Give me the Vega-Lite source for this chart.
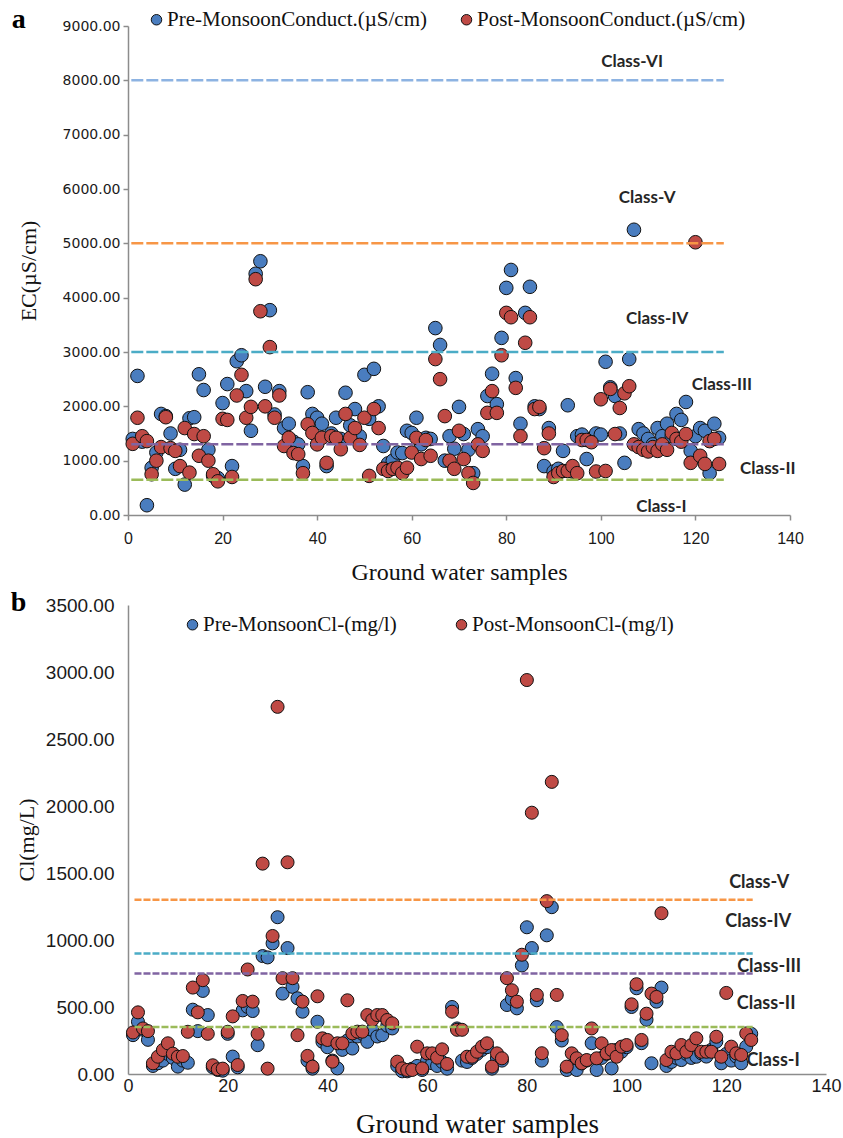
{
  "$schema": "https://vega.github.io/schema/vega-lite/v6.json",
  "padding": {"left": 10, "top": 6, "right": 0, "bottom": 2},
  "background": "white",
  "spacing": 5,
  "datasets": {
    "ec": [
{"s":"Pre","n":1,"v":1400},{"s":"Pre","n":2,"v":2560},{"s":"Pre","n":3,"v":1350},{"s":"Pre","n":4,"v":180},{"s":"Pre","n":5,"v":870},{"s":"Pre","n":6,"v":1150},{"s":"Pre","n":7,"v":1860},{"s":"Pre","n":8,"v":1820},{"s":"Pre","n":9,"v":1500},{"s":"Pre","n":10,"v":850},
{"s":"Pre","n":11,"v":1200},{"s":"Pre","n":12,"v":560},{"s":"Pre","n":13,"v":1780},{"s":"Pre","n":14,"v":1800},{"s":"Pre","n":15,"v":2590},{"s":"Pre","n":16,"v":2300},{"s":"Pre","n":17,"v":1200},{"s":"Pre","n":18,"v":720},{"s":"Pre","n":19,"v":680},{"s":"Pre","n":20,"v":2060},
{"s":"Pre","n":21,"v":2410},{"s":"Pre","n":22,"v":900},{"s":"Pre","n":23,"v":2830},{"s":"Pre","n":24,"v":2940},{"s":"Pre","n":25,"v":2280},{"s":"Pre","n":26,"v":1550},{"s":"Pre","n":27,"v":4440},{"s":"Pre","n":28,"v":4670},{"s":"Pre","n":29,"v":2360},{"s":"Pre","n":30,"v":3770},
{"s":"Pre","n":31,"v":1850},{"s":"Pre","n":32,"v":2280},{"s":"Pre","n":33,"v":1600},{"s":"Pre","n":34,"v":1680},{"s":"Pre","n":35,"v":1350},{"s":"Pre","n":36,"v":1300},{"s":"Pre","n":37,"v":900},{"s":"Pre","n":38,"v":2260},{"s":"Pre","n":39,"v":1860},{"s":"Pre","n":40,"v":1790},
{"s":"Pre","n":41,"v":1680},{"s":"Pre","n":42,"v":900},{"s":"Pre","n":43,"v":1500},{"s":"Pre","n":44,"v":1790},{"s":"Pre","n":45,"v":1400},{"s":"Pre","n":46,"v":2250},{"s":"Pre","n":47,"v":1650},{"s":"Pre","n":48,"v":1950},{"s":"Pre","n":49,"v":1450},{"s":"Pre","n":50,"v":2580},
{"s":"Pre","n":51,"v":1770},{"s":"Pre","n":52,"v":2690},{"s":"Pre","n":53,"v":2000},{"s":"Pre","n":54,"v":1270},{"s":"Pre","n":55,"v":950},{"s":"Pre","n":56,"v":1000},{"s":"Pre","n":57,"v":1150},{"s":"Pre","n":58,"v":1140},{"s":"Pre","n":59,"v":1550},{"s":"Pre","n":60,"v":1510},
{"s":"Pre","n":61,"v":1790},{"s":"Pre","n":62,"v":1300},{"s":"Pre","n":63,"v":1420},{"s":"Pre","n":64,"v":1400},{"s":"Pre","n":65,"v":3440},{"s":"Pre","n":66,"v":3130},{"s":"Pre","n":67,"v":1000},{"s":"Pre","n":68,"v":1450},{"s":"Pre","n":69,"v":1220},{"s":"Pre","n":70,"v":1990},
{"s":"Pre","n":71,"v":1490},{"s":"Pre","n":72,"v":1200},{"s":"Pre","n":73,"v":770},{"s":"Pre","n":74,"v":1580},{"s":"Pre","n":75,"v":1450},{"s":"Pre","n":76,"v":2190},{"s":"Pre","n":77,"v":2600},{"s":"Pre","n":78,"v":2040},{"s":"Pre","n":79,"v":3260},{"s":"Pre","n":80,"v":4180},
{"s":"Pre","n":81,"v":4510},{"s":"Pre","n":82,"v":2520},{"s":"Pre","n":83,"v":1680},{"s":"Pre","n":84,"v":3720},{"s":"Pre","n":85,"v":4200},{"s":"Pre","n":86,"v":2000},{"s":"Pre","n":87,"v":1950},{"s":"Pre","n":88,"v":900},{"s":"Pre","n":89,"v":1600},{"s":"Pre","n":90,"v":800},
{"s":"Pre","n":91,"v":850},{"s":"Pre","n":92,"v":1180},{"s":"Pre","n":93,"v":2020},{"s":"Pre","n":94,"v":800},{"s":"Pre","n":95,"v":1450},{"s":"Pre","n":96,"v":1480},{"s":"Pre","n":97,"v":1030},{"s":"Pre","n":98,"v":1400},{"s":"Pre","n":99,"v":1500},{"s":"Pre","n":100,"v":1480},
{"s":"Pre","n":101,"v":2820},{"s":"Pre","n":102,"v":2350},{"s":"Pre","n":103,"v":2190},{"s":"Pre","n":104,"v":1500},{"s":"Pre","n":105,"v":960},{"s":"Pre","n":106,"v":2870},{"s":"Pre","n":107,"v":5250},{"s":"Pre","n":108,"v":1580},{"s":"Pre","n":109,"v":1500},{"s":"Pre","n":110,"v":1400},
{"s":"Pre","n":111,"v":1300},{"s":"Pre","n":112,"v":1600},{"s":"Pre","n":113,"v":1450},{"s":"Pre","n":114,"v":1680},{"s":"Pre","n":115,"v":1450},{"s":"Pre","n":116,"v":1860},{"s":"Pre","n":117,"v":1750},{"s":"Pre","n":118,"v":2080},{"s":"Pre","n":119,"v":1180},{"s":"Pre","n":120,"v":1450},
{"s":"Pre","n":121,"v":1600},{"s":"Pre","n":122,"v":1550},{"s":"Pre","n":123,"v":770},{"s":"Pre","n":124,"v":1680},{"s":"Pre","n":125,"v":1420},
{"s":"Post","n":1,"v":1310},{"s":"Post","n":2,"v":1790},{"s":"Post","n":3,"v":1450},{"s":"Post","n":4,"v":1360},{"s":"Post","n":5,"v":750},{"s":"Post","n":6,"v":1000},{"s":"Post","n":7,"v":1250},{"s":"Post","n":8,"v":1800},{"s":"Post","n":9,"v":1230},{"s":"Post","n":10,"v":1180},
{"s":"Post","n":11,"v":900},{"s":"Post","n":12,"v":1600},{"s":"Post","n":13,"v":780},{"s":"Post","n":14,"v":1490},{"s":"Post","n":15,"v":1090},{"s":"Post","n":16,"v":1450},{"s":"Post","n":17,"v":1000},{"s":"Post","n":18,"v":750},{"s":"Post","n":19,"v":620},{"s":"Post","n":20,"v":1770},
{"s":"Post","n":21,"v":1750},{"s":"Post","n":22,"v":700},{"s":"Post","n":23,"v":2200},{"s":"Post","n":24,"v":2580},{"s":"Post","n":25,"v":1790},{"s":"Post","n":26,"v":1990},{"s":"Post","n":27,"v":4340},{"s":"Post","n":28,"v":3750},{"s":"Post","n":29,"v":2000},{"s":"Post","n":30,"v":3090},
{"s":"Post","n":31,"v":1790},{"s":"Post","n":32,"v":2200},{"s":"Post","n":33,"v":1270},{"s":"Post","n":34,"v":1420},{"s":"Post","n":35,"v":1140},{"s":"Post","n":36,"v":1120},{"s":"Post","n":37,"v":770},{"s":"Post","n":38,"v":1670},{"s":"Post","n":39,"v":1510},{"s":"Post","n":40,"v":1300},
{"s":"Post","n":41,"v":1420},{"s":"Post","n":42,"v":960},{"s":"Post","n":43,"v":1450},{"s":"Post","n":44,"v":1420},{"s":"Post","n":45,"v":1210},{"s":"Post","n":46,"v":1860},{"s":"Post","n":47,"v":1420},{"s":"Post","n":48,"v":1600},{"s":"Post","n":49,"v":1290},{"s":"Post","n":50,"v":1790},
{"s":"Post","n":51,"v":720},{"s":"Post","n":52,"v":1950},{"s":"Post","n":53,"v":1600},{"s":"Post","n":54,"v":850},{"s":"Post","n":55,"v":810},{"s":"Post","n":56,"v":850},{"s":"Post","n":57,"v":870},{"s":"Post","n":58,"v":770},{"s":"Post","n":59,"v":870},{"s":"Post","n":60,"v":1150},
{"s":"Post","n":61,"v":1420},{"s":"Post","n":62,"v":1030},{"s":"Post","n":63,"v":1380},{"s":"Post","n":64,"v":1090},{"s":"Post","n":65,"v":2870},{"s":"Post","n":66,"v":2500},{"s":"Post","n":67,"v":1820},{"s":"Post","n":68,"v":1000},{"s":"Post","n":69,"v":850},{"s":"Post","n":70,"v":1550},
{"s":"Post","n":71,"v":1030},{"s":"Post","n":72,"v":770},{"s":"Post","n":73,"v":590},{"s":"Post","n":74,"v":1300},{"s":"Post","n":75,"v":1180},{"s":"Post","n":76,"v":1880},{"s":"Post","n":77,"v":2280},{"s":"Post","n":78,"v":1880},{"s":"Post","n":79,"v":2940},{"s":"Post","n":80,"v":3720},
{"s":"Post","n":81,"v":3640},{"s":"Post","n":82,"v":2340},{"s":"Post","n":83,"v":1450},{"s":"Post","n":84,"v":3170},{"s":"Post","n":85,"v":3640},{"s":"Post","n":86,"v":1950},{"s":"Post","n":87,"v":1990},{"s":"Post","n":88,"v":1230},{"s":"Post","n":89,"v":1500},{"s":"Post","n":90,"v":700},
{"s":"Post","n":91,"v":770},{"s":"Post","n":92,"v":810},{"s":"Post","n":93,"v":810},{"s":"Post","n":94,"v":900},{"s":"Post","n":95,"v":770},{"s":"Post","n":96,"v":1380},{"s":"Post","n":97,"v":1380},{"s":"Post","n":98,"v":1340},{"s":"Post","n":99,"v":800},{"s":"Post","n":100,"v":2130},
{"s":"Post","n":101,"v":810},{"s":"Post","n":102,"v":2320},{"s":"Post","n":103,"v":1490},{"s":"Post","n":104,"v":1970},{"s":"Post","n":105,"v":2240},{"s":"Post","n":106,"v":2370},{"s":"Post","n":107,"v":1300},{"s":"Post","n":108,"v":1250},{"s":"Post","n":109,"v":1200},{"s":"Post","n":110,"v":1170},
{"s":"Post","n":111,"v":1250},{"s":"Post","n":112,"v":1180},{"s":"Post","n":113,"v":1300},{"s":"Post","n":114,"v":1200},{"s":"Post","n":115,"v":1510},{"s":"Post","n":116,"v":1400},{"s":"Post","n":117,"v":1350},{"s":"Post","n":118,"v":1490},{"s":"Post","n":119,"v":960},{"s":"Post","n":120,"v":5020},
{"s":"Post","n":121,"v":1090},{"s":"Post","n":122,"v":940},{"s":"Post","n":123,"v":1360},{"s":"Post","n":124,"v":1400},{"s":"Post","n":125,"v":940}
    ],
    "cl": [
{"s":"Pre","n":1,"v":290},{"s":"Pre","n":2,"v":390},{"s":"Pre","n":3,"v":330},{"s":"Pre","n":4,"v":255},{"s":"Pre","n":5,"v":60},{"s":"Pre","n":6,"v":80},{"s":"Pre","n":7,"v":100},{"s":"Pre","n":8,"v":150},{"s":"Pre","n":9,"v":120},{"s":"Pre","n":10,"v":55},
{"s":"Pre","n":11,"v":100},{"s":"Pre","n":12,"v":84},{"s":"Pre","n":13,"v":480},{"s":"Pre","n":14,"v":320},{"s":"Pre","n":15,"v":620},{"s":"Pre","n":16,"v":440},{"s":"Pre","n":17,"v":50},{"s":"Pre","n":18,"v":30},{"s":"Pre","n":19,"v":25},{"s":"Pre","n":20,"v":300},
{"s":"Pre","n":21,"v":130},{"s":"Pre","n":22,"v":50},{"s":"Pre","n":23,"v":475},{"s":"Pre","n":24,"v":500},{"s":"Pre","n":25,"v":470},{"s":"Pre","n":26,"v":215},{"s":"Pre","n":27,"v":880},{"s":"Pre","n":28,"v":870},{"s":"Pre","n":29,"v":975},{"s":"Pre","n":30,"v":1170},
{"s":"Pre","n":31,"v":600},{"s":"Pre","n":32,"v":940},{"s":"Pre","n":33,"v":650},{"s":"Pre","n":34,"v":565},{"s":"Pre","n":35,"v":465},{"s":"Pre","n":36,"v":100},{"s":"Pre","n":37,"v":40},{"s":"Pre","n":38,"v":390},{"s":"Pre","n":39,"v":240},{"s":"Pre","n":40,"v":200},
{"s":"Pre","n":41,"v":100},{"s":"Pre","n":42,"v":42},{"s":"Pre","n":43,"v":180},{"s":"Pre","n":44,"v":250},{"s":"Pre","n":45,"v":190},{"s":"Pre","n":46,"v":280},{"s":"Pre","n":47,"v":300},{"s":"Pre","n":48,"v":240},{"s":"Pre","n":49,"v":330},{"s":"Pre","n":50,"v":280},
{"s":"Pre","n":51,"v":290},{"s":"Pre","n":52,"v":360},{"s":"Pre","n":53,"v":340},{"s":"Pre","n":54,"v":60},{"s":"Pre","n":55,"v":20},{"s":"Pre","n":56,"v":20},{"s":"Pre","n":57,"v":40},{"s":"Pre","n":58,"v":60},{"s":"Pre","n":59,"v":30},{"s":"Pre","n":60,"v":100},
{"s":"Pre","n":61,"v":80},{"s":"Pre","n":62,"v":60},{"s":"Pre","n":63,"v":90},{"s":"Pre","n":64,"v":40},{"s":"Pre","n":65,"v":500},{"s":"Pre","n":66,"v":340},{"s":"Pre","n":67,"v":100},{"s":"Pre","n":68,"v":90},{"s":"Pre","n":69,"v":120},{"s":"Pre","n":70,"v":150},
{"s":"Pre","n":71,"v":180},{"s":"Pre","n":72,"v":200},{"s":"Pre","n":73,"v":40},{"s":"Pre","n":74,"v":120},{"s":"Pre","n":75,"v":100},{"s":"Pre","n":76,"v":515},{"s":"Pre","n":77,"v":560},{"s":"Pre","n":78,"v":490},{"s":"Pre","n":79,"v":810},{"s":"Pre","n":80,"v":1095},
{"s":"Pre","n":81,"v":940},{"s":"Pre","n":82,"v":550},{"s":"Pre","n":83,"v":100},{"s":"Pre","n":84,"v":1035},{"s":"Pre","n":85,"v":1245},{"s":"Pre","n":86,"v":350},{"s":"Pre","n":87,"v":250},{"s":"Pre","n":88,"v":30},{"s":"Pre","n":89,"v":60},{"s":"Pre","n":90,"v":30},
{"s":"Pre","n":91,"v":80},{"s":"Pre","n":92,"v":100},{"s":"Pre","n":93,"v":230},{"s":"Pre","n":94,"v":30},{"s":"Pre","n":95,"v":120},{"s":"Pre","n":96,"v":150},{"s":"Pre","n":97,"v":42},{"s":"Pre","n":98,"v":180},{"s":"Pre","n":99,"v":166},{"s":"Pre","n":100,"v":200},
{"s":"Pre","n":101,"v":500},{"s":"Pre","n":102,"v":640},{"s":"Pre","n":103,"v":230},{"s":"Pre","n":104,"v":405},{"s":"Pre","n":105,"v":80},{"s":"Pre","n":106,"v":540},{"s":"Pre","n":107,"v":645},{"s":"Pre","n":108,"v":60},{"s":"Pre","n":109,"v":90},{"s":"Pre","n":110,"v":120},
{"s":"Pre","n":111,"v":104},{"s":"Pre","n":112,"v":150},{"s":"Pre","n":113,"v":120},{"s":"Pre","n":114,"v":129},{"s":"Pre","n":115,"v":154},{"s":"Pre","n":116,"v":130},{"s":"Pre","n":117,"v":180},{"s":"Pre","n":118,"v":241},{"s":"Pre","n":119,"v":80},{"s":"Pre","n":120,"v":150},
{"s":"Pre","n":121,"v":100},{"s":"Pre","n":122,"v":130},{"s":"Pre","n":123,"v":80},{"s":"Pre","n":124,"v":204},{"s":"Pre","n":125,"v":300},
{"s":"Post","n":1,"v":310},{"s":"Post","n":2,"v":460},{"s":"Post","n":3,"v":340},{"s":"Post","n":4,"v":320},{"s":"Post","n":5,"v":80},{"s":"Post","n":6,"v":129},{"s":"Post","n":7,"v":179},{"s":"Post","n":8,"v":229},{"s":"Post","n":9,"v":152},{"s":"Post","n":10,"v":129},
{"s":"Post","n":11,"v":134},{"s":"Post","n":12,"v":315},{"s":"Post","n":13,"v":645},{"s":"Post","n":14,"v":460},{"s":"Post","n":15,"v":700},{"s":"Post","n":16,"v":300},{"s":"Post","n":17,"v":65},{"s":"Post","n":18,"v":35},{"s":"Post","n":19,"v":40},{"s":"Post","n":20,"v":315},
{"s":"Post","n":21,"v":430},{"s":"Post","n":22,"v":67},{"s":"Post","n":23,"v":545},{"s":"Post","n":24,"v":780},{"s":"Post","n":25,"v":540},{"s":"Post","n":26,"v":300},{"s":"Post","n":27,"v":1570},{"s":"Post","n":28,"v":40},{"s":"Post","n":29,"v":1030},{"s":"Post","n":30,"v":2740},
{"s":"Post","n":31,"v":715},{"s":"Post","n":32,"v":1580},{"s":"Post","n":33,"v":715},{"s":"Post","n":34,"v":290},{"s":"Post","n":35,"v":540},{"s":"Post","n":36,"v":135},{"s":"Post","n":37,"v":55},{"s":"Post","n":38,"v":580},{"s":"Post","n":39,"v":266},{"s":"Post","n":40,"v":254},
{"s":"Post","n":41,"v":92},{"s":"Post","n":42,"v":229},{"s":"Post","n":43,"v":229},{"s":"Post","n":44,"v":550},{"s":"Post","n":45,"v":303},{"s":"Post","n":46,"v":316},{"s":"Post","n":47,"v":316},{"s":"Post","n":48,"v":440},{"s":"Post","n":49,"v":403},{"s":"Post","n":50,"v":440},
{"s":"Post","n":51,"v":440},{"s":"Post","n":52,"v":403},{"s":"Post","n":53,"v":378},{"s":"Post","n":54,"v":92},{"s":"Post","n":55,"v":42},{"s":"Post","n":56,"v":30},{"s":"Post","n":57,"v":30},{"s":"Post","n":58,"v":204},{"s":"Post","n":59,"v":42},{"s":"Post","n":60,"v":154},
{"s":"Post","n":61,"v":154},{"s":"Post","n":62,"v":122},{"s":"Post","n":63,"v":184},{"s":"Post","n":64,"v":75},{"s":"Post","n":65,"v":465},{"s":"Post","n":66,"v":330},{"s":"Post","n":67,"v":330},{"s":"Post","n":68,"v":129},{"s":"Post","n":69,"v":129},{"s":"Post","n":70,"v":166},
{"s":"Post","n":71,"v":204},{"s":"Post","n":72,"v":229},{"s":"Post","n":73,"v":55},{"s":"Post","n":74,"v":154},{"s":"Post","n":75,"v":117},{"s":"Post","n":76,"v":715},{"s":"Post","n":77,"v":625},{"s":"Post","n":78,"v":540},{"s":"Post","n":79,"v":890},{"s":"Post","n":80,"v":2940},
{"s":"Post","n":81,"v":1950},{"s":"Post","n":82,"v":590},{"s":"Post","n":83,"v":155},{"s":"Post","n":84,"v":1290},{"s":"Post","n":85,"v":2180},{"s":"Post","n":86,"v":590},{"s":"Post","n":87,"v":290},{"s":"Post","n":88,"v":55},{"s":"Post","n":89,"v":154},{"s":"Post","n":90,"v":117},
{"s":"Post","n":91,"v":80},{"s":"Post","n":92,"v":104},{"s":"Post","n":93,"v":340},{"s":"Post","n":94,"v":117},{"s":"Post","n":95,"v":229},{"s":"Post","n":96,"v":154},{"s":"Post","n":97,"v":179},{"s":"Post","n":98,"v":129},{"s":"Post","n":99,"v":204},{"s":"Post","n":100,"v":216},
{"s":"Post","n":101,"v":520},{"s":"Post","n":102,"v":670},{"s":"Post","n":103,"v":254},{"s":"Post","n":104,"v":450},{"s":"Post","n":105,"v":600},{"s":"Post","n":106,"v":575},{"s":"Post","n":107,"v":1200},{"s":"Post","n":108,"v":104},{"s":"Post","n":109,"v":166},{"s":"Post","n":110,"v":154},
{"s":"Post","n":111,"v":216},{"s":"Post","n":112,"v":166},{"s":"Post","n":113,"v":216},{"s":"Post","n":114,"v":266},{"s":"Post","n":115,"v":166},{"s":"Post","n":116,"v":166},{"s":"Post","n":117,"v":166},{"s":"Post","n":118,"v":278},{"s":"Post","n":119,"v":129},{"s":"Post","n":120,"v":605},
{"s":"Post","n":121,"v":204},{"s":"Post","n":122,"v":154},{"s":"Post","n":123,"v":142},{"s":"Post","n":124,"v":303},{"s":"Post","n":125,"v":254}
    ],
    "ecLines": [
      {"c": "VI", "v": 8000}, {"c": "V", "v": 5000}, {"c": "IV", "v": 3000}, {"c": "III", "v": 1300}, {"c": "II", "v": 650}
    ],
    "clLines": [
      {"c": "V", "v": 1300}, {"c": "IV", "v": 900}, {"c": "III", "v": 750}, {"c": "II", "v": 350}
    ],
    "ecLabels": [
      {"t": "Class-VI", "x": 106.6, "y": 8330},
      {"t": "Class-V", "x": 109.8, "y": 5840},
      {"t": "Class-IV", "x": 111.9, "y": 3610},
      {"t": "Class-III", "x": 125.6, "y": 2395},
      {"t": "Class-II", "x": 135.3, "y": 848},
      {"t": "Class-I", "x": 112.8, "y": 147}
    ],
    "clLabels": [
      {"t": "Class-V", "x": 126.6, "y": 1425},
      {"t": "Class-IV", "x": 126.4, "y": 1134},
      {"t": "Class-III", "x": 128.6, "y": 798},
      {"t": "Class-II", "x": 128.0, "y": 522},
      {"t": "Class-I", "x": 129.4, "y": 97}
    ],
    "letterA": [{"t": "a"}],
    "letterB": [{"t": "b"}]
  },
  "vconcat": [
    {
      "width": 662,
      "height": 489,
      "layer": [
        {
          "data": {"name": "ec"},
          "mark": {"type": "circle", "size": 185, "stroke": "#111111", "strokeWidth": 1, "opacity": 1},
          "encoding": {
            "x": {"field": "n", "type": "quantitative", "scale": {"domain": [0, 140], "nice": false, "zero": false},
              "axis": {"values": [0, 20, 40, 60, 80, 100, 120, 140], "title": "Ground water samples", "labelFont": "Liberation Sans", "labelFontSize": 16, "labelFlush": false, "tickSize": 5, "labelPadding": 10, "titleFont": "Liberation Serif", "titleFontSize": 24, "titlePadding": 14}},
            "y": {"field": "v", "type": "quantitative", "scale": {"domain": [0, 9000], "nice": false},
              "axis": {"values": [0, 1000, 2000, 3000, 4000, 5000, 6000, 7000, 8000, 9000], "format": ".2f", "title": "EC(µS/cm)", "labelFont": "DejaVu Sans", "labelFontSize": 14, "labelFlush": false, "tickSize": 5, "labelPadding": 3, "titleFont": "Liberation Serif", "titleFontSize": 22, "titlePadding": 22}},
            "fill": {"field": "s", "type": "nominal", "scale": {"domain": ["Pre", "Post"], "range": ["#4A7DBF", "#BF4A45"]},
              "legend": {"orient": "none", "legendX": 18, "legendY": -17, "direction": "horizontal", "title": null, "padding": 0,
                "labelExpr": "datum.label == 'Pre' ? 'Pre-MonsoonConduct.(µS/cm)' : 'Post-MonsoonConduct.(µS/cm)'",
                "labelFont": "Liberation Serif", "labelFontSize": 21, "labelColor": "#111111", "labelOffset": 0, "columnPadding": 29,
                "symbolType": "circle", "symbolSize": 110, "symbolStrokeColor": "#111111", "symbolStrokeWidth": 1, "symbolOpacity": 1, "labelLimit": 400}}
          }
        },
        {
          "data": {"name": "ecLines"},
          "mark": {"type": "rule", "strokeWidth": 2.5, "strokeDash": [12, 3]},
          "encoding": {
            "x": {"datum": 0.7, "type": "quantitative",
              "axis": {"values": [0, 20, 40, 60, 80, 100, 120, 140], "title": "Ground water samples", "labelFont": "Liberation Sans", "labelFontSize": 16, "labelFlush": false, "tickSize": 5, "labelPadding": 10, "titleFont": "Liberation Serif", "titleFontSize": 24, "titlePadding": 14}},
            "x2": {"datum": 126},
            "y": {"field": "v", "type": "quantitative",
              "axis": {"values": [0, 1000, 2000, 3000, 4000, 5000, 6000, 7000, 8000, 9000], "format": ".2f", "title": "EC(µS/cm)", "labelFont": "DejaVu Sans", "labelFontSize": 14, "labelFlush": false, "tickSize": 5, "labelPadding": 3, "titleFont": "Liberation Serif", "titleFontSize": 22, "titlePadding": 22}},
            "stroke": {"field": "c", "type": "nominal", "scale": {"domain": ["VI", "V", "IV", "III", "II"], "range": ["#8DB3E2", "#F79646", "#4BACC6", "#8064A2", "#9BBB59"]}, "legend": null}
          }
        },
        {
          "data": {"name": "ecLabels"},
          "mark": {"type": "text", "font": "Lato", "fontWeight": "bold", "fontSize": 17, "color": "#262626", "align": "center", "baseline": "middle"},
          "encoding": {
            "x": {"field": "x", "type": "quantitative",
              "axis": {"values": [0, 20, 40, 60, 80, 100, 120, 140], "title": "Ground water samples", "labelFont": "Liberation Sans", "labelFontSize": 16, "labelFlush": false, "tickSize": 5, "labelPadding": 10, "titleFont": "Liberation Serif", "titleFontSize": 24, "titlePadding": 14}},
            "y": {"field": "y", "type": "quantitative",
              "axis": {"values": [0, 1000, 2000, 3000, 4000, 5000, 6000, 7000, 8000, 9000], "format": ".2f", "title": "EC(µS/cm)", "labelFont": "DejaVu Sans", "labelFontSize": 14, "labelFlush": false, "tickSize": 5, "labelPadding": 3, "titleFont": "Liberation Serif", "titleFontSize": 22, "titlePadding": 22}},
            "text": {"field": "t"}
          }
        },
        {
          "data": {"name": "letterA"},
          "mark": {"type": "text", "font": "Liberation Serif", "fontWeight": "bold", "fontSize": 28, "color": "#000000", "align": "left", "baseline": "alphabetic"},
          "encoding": {
            "x": {"datum": -24.6, "type": "quantitative",
              "axis": {"values": [0, 20, 40, 60, 80, 100, 120, 140], "title": "Ground water samples", "labelFont": "Liberation Sans", "labelFontSize": 16, "labelFlush": false, "tickSize": 5, "labelPadding": 10, "titleFont": "Liberation Serif", "titleFontSize": 24, "titlePadding": 14}},
            "y": {"datum": 8963, "type": "quantitative",
              "axis": {"values": [0, 1000, 2000, 3000, 4000, 5000, 6000, 7000, 8000, 9000], "format": ".2f", "title": "EC(µS/cm)", "labelFont": "DejaVu Sans", "labelFontSize": 14, "labelFlush": false, "tickSize": 5, "labelPadding": 3, "titleFont": "Liberation Serif", "titleFontSize": 22, "titlePadding": 22}},
            "text": {"field": "t"}
          }
        }
      ]
    },
    {
      "width": 698,
      "height": 469,
      "layer": [
        {
          "data": {"name": "cl"},
          "mark": {"type": "circle", "size": 170, "stroke": "#111111", "strokeWidth": 1, "opacity": 1},
          "encoding": {
            "x": {"field": "n", "type": "quantitative", "scale": {"domain": [0, 140], "nice": false, "zero": false},
              "axis": {"values": [0, 20, 40, 60, 80, 100, 120, 140], "title": "Ground water samples", "labelFont": "Liberation Sans", "labelFontSize": 18, "labelFlush": false, "ticks": false, "labelPadding": 3, "titleFont": "Liberation Serif", "titleFontSize": 27, "titlePadding": 16}},
            "y": {"field": "v", "type": "quantitative", "scale": {"domain": [0, 3500], "nice": false},
              "axis": {"values": [0, 500, 1000, 1500, 2000, 2500, 3000, 3500], "format": ".2f", "title": "Cl(mg/L)", "labelFont": "Liberation Sans", "labelFontSize": 19, "labelFlush": false, "ticks": false, "labelPadding": 14, "titleFont": "Liberation Serif", "titleFontSize": 22, "titlePadding": 7}},
            "fill": {"field": "s", "type": "nominal", "scale": {"domain": ["Pre", "Post"], "range": ["#4A7DBF", "#BF4A45"]},
              "legend": {"orient": "none", "legendX": 54, "legendY": 9, "direction": "horizontal", "title": null, "padding": 0,
                "labelExpr": "datum.label == 'Pre' ? 'Pre-MonsoonCl-(mg/l)' : 'Post-MonsoonCl-(mg/l)'",
                "labelFont": "Liberation Serif", "labelFontSize": 21, "labelColor": "#111111", "labelOffset": 0, "columnPadding": 54,
                "symbolType": "circle", "symbolSize": 110, "symbolStrokeColor": "#111111", "symbolStrokeWidth": 1, "symbolOpacity": 1, "labelLimit": 400}}
          }
        },
        {
          "data": {"name": "clLines"},
          "mark": {"type": "rule", "strokeWidth": 2.5, "strokeDash": [7, 2]},
          "encoding": {
            "x": {"datum": 1.3, "type": "quantitative",
              "axis": {"values": [0, 20, 40, 60, 80, 100, 120, 140], "title": "Ground water samples", "labelFont": "Liberation Sans", "labelFontSize": 18, "labelFlush": false, "ticks": false, "labelPadding": 3, "titleFont": "Liberation Serif", "titleFontSize": 27, "titlePadding": 16}},
            "x2": {"datum": 125.3},
            "y": {"field": "v", "type": "quantitative",
              "axis": {"values": [0, 500, 1000, 1500, 2000, 2500, 3000, 3500], "format": ".2f", "title": "Cl(mg/L)", "labelFont": "Liberation Sans", "labelFontSize": 19, "labelFlush": false, "ticks": false, "labelPadding": 14, "titleFont": "Liberation Serif", "titleFontSize": 22, "titlePadding": 7}},
            "stroke": {"field": "c", "type": "nominal", "scale": {"domain": ["V", "IV", "III", "II"], "range": ["#F79646", "#4BACC6", "#8064A2", "#9BBB59"]}, "legend": null}
          }
        },
        {
          "data": {"name": "clLabels"},
          "mark": {"type": "text", "font": "Lato", "fontWeight": "bold", "fontSize": 18, "color": "#262626", "align": "center", "baseline": "middle"},
          "encoding": {
            "x": {"field": "x", "type": "quantitative",
              "axis": {"values": [0, 20, 40, 60, 80, 100, 120, 140], "title": "Ground water samples", "labelFont": "Liberation Sans", "labelFontSize": 18, "labelFlush": false, "ticks": false, "labelPadding": 3, "titleFont": "Liberation Serif", "titleFontSize": 27, "titlePadding": 16}},
            "y": {"field": "y", "type": "quantitative",
              "axis": {"values": [0, 500, 1000, 1500, 2000, 2500, 3000, 3500], "format": ".2f", "title": "Cl(mg/L)", "labelFont": "Liberation Sans", "labelFontSize": 19, "labelFlush": false, "ticks": false, "labelPadding": 14, "titleFont": "Liberation Serif", "titleFontSize": 22, "titlePadding": 7}},
            "text": {"field": "t"}
          }
        },
        {
          "data": {"name": "letterB"},
          "mark": {"type": "text", "font": "Liberation Serif", "fontWeight": "bold", "fontSize": 28, "color": "#000000", "align": "left", "baseline": "alphabetic"},
          "encoding": {
            "x": {"datum": -23.5, "type": "quantitative",
              "axis": {"values": [0, 20, 40, 60, 80, 100, 120, 140], "title": "Ground water samples", "labelFont": "Liberation Sans", "labelFontSize": 18, "labelFlush": false, "ticks": false, "labelPadding": 3, "titleFont": "Liberation Serif", "titleFontSize": 27, "titlePadding": 16}},
            "y": {"datum": 3455, "type": "quantitative",
              "axis": {"values": [0, 500, 1000, 1500, 2000, 2500, 3000, 3500], "format": ".2f", "title": "Cl(mg/L)", "labelFont": "Liberation Sans", "labelFontSize": 19, "labelFlush": false, "ticks": false, "labelPadding": 14, "titleFont": "Liberation Serif", "titleFontSize": 22, "titlePadding": 7}},
            "text": {"field": "t"}
          }
        }
      ]
    }
  ],
  "resolve": {"scale": {"fill": "independent", "stroke": "independent"}, "legend": {"fill": "independent"}},
  "config": {
    "view": {"stroke": null},
    "axis": {"grid": false, "domainColor": "#8c8c8c", "tickColor": "#8c8c8c", "domainWidth": 1.5, "tickWidth": 1.5, "labelColor": "#1a1a1a", "titleColor": "#111111", "titleFontWeight": "normal"}
  }
}
